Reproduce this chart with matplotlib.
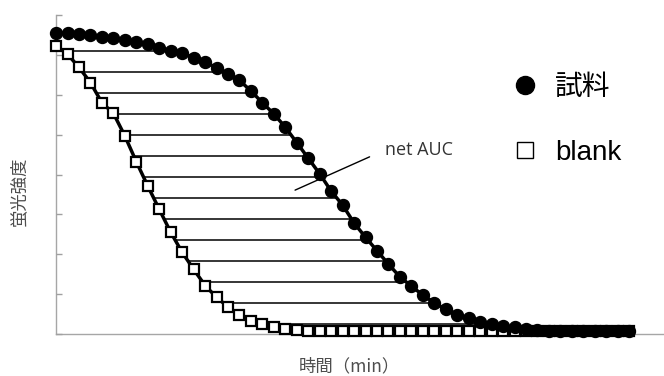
import numpy as np
import matplotlib
matplotlib.use("Agg")
import matplotlib.pyplot as plt
from matplotlib.lines import Line2D

plt.rcParams['font.family'] = ['Liberation Sans', 'Noto Sans CJK JP', 'DejaVu Sans']

# Fluorescence decay of the sample and the blank (relative intensity, %)
time_min = np.arange(0, 102, 2)

sample = [94.3, 94.3, 94.0, 93.7, 93.0, 92.7, 92.2, 91.6, 90.9, 89.8,
          88.8, 88.2, 86.6, 85.2, 83.5, 81.5, 79.5, 76.2, 72.5, 69.0,
          64.8, 60.0, 55.1, 50.2, 44.8, 40.4, 34.8, 30.3, 26.1, 21.9,
          17.9, 15.0, 12.2, 9.8, 7.7, 6.0, 4.9, 3.9, 3.0, 2.5,
          2.1, 1.5, 1.1, 0.95, 0.85, 0.8, 0.8, 0.8, 0.8, 0.8, 0.8]

blank = [90.4, 87.7, 83.6, 78.8, 72.5, 69.2, 62.1, 54.0, 46.4, 39.1,
         31.9, 25.6, 20.3, 15.2, 11.5, 8.5, 6.0, 4.2, 3.1, 2.1,
         1.5, 1.2, 1.0, 0.9, 0.85, 0.8, 0.8, 0.8, 0.8, 0.8,
         0.8, 0.8, 0.8, 0.8, 0.8, 0.8, 0.8, 0.8, 0.8, 0.8,
         0.8, 0.8, 0.8, 0.8, 0.8, 0.8, 0.8, 0.8, 0.8, 0.8, 0.8]

# Intensity levels at which the area between the curves is hatched
hatch_levels = [88.7, 82.1, 75.5, 68.9, 62.4, 55.8, 49.2,
                42.6, 36.1, 29.5, 22.9, 16.3, 9.8, 3.2]

series_labels = ['試料', 'blank']

fig = plt.figure(figsize=(6.64, 3.76), dpi=100)
W, H = 664, 376
ax = fig.add_axes([55.5 / W, (H - 334) / H, (663 - 55.5) / W, (334 - 15) / H])

t = np.asarray(time_min, dtype=float)
s = np.asarray(sample, dtype=float)
b = np.asarray(blank, dtype=float)

# Horizontal hatching: from the blank curve to the sample curve at each level
for lv in hatch_levels:
    x_left = np.interp(lv, b[::-1], t[::-1])
    x_right = np.interp(lv, s[::-1], t[::-1])
    ax.plot([x_left, x_right], [lv, lv], color='black', lw=1.1, zorder=1)

ax.plot(t, b, color='black', lw=2.5, marker='s', markersize=6.8,
        markerfacecolor='white', markeredgecolor='black', markeredgewidth=1.6,
        zorder=3, clip_on=False)
ax.plot(t, s, color='black', lw=2.5, marker='o', markersize=8.6,
        markerfacecolor='black', markeredgecolor='black', zorder=4,
        clip_on=False)

ax.set_xlim(-0.1, 105.9)
ax.set_ylim(0, 100)
ax.set_yticks(np.linspace(0, 100, 9))
ax.set_xticks([])
ax.tick_params(axis='y', direction='in', length=4.5, width=1, color='#a0a0a0',
               labelleft=False)
for side in ('top', 'right'):
    ax.spines[side].set_visible(False)
for side in ('left', 'bottom'):
    ax.spines[side].set_color('#a6a6a6')
    ax.spines[side].set_linewidth(1.0)
    ax.spines[side].set_zorder(0.5)
ax.patch.set_alpha(0)

ax.set_ylabel('蛍光強度', fontsize=12.5, color='#4d4d4d',
              family=['Noto Sans CJK JP', 'DejaVu Sans'])
ax.yaxis.set_label_coords(-0.045, 0.447)
ax.set_xlabel('時間（min）', fontsize=12.5, color='#4d4d4d',
              family=['Noto Sans CJK JP', 'DejaVu Sans'])
ax.xaxis.set_label_coords(0.483, -0.073)

ax.annotate('net AUC', xy=(41.7, 45.1), xytext=(57.4, 57.7),
            fontsize=13, color='#333333', family='Open Sans',
            ha='left', va='center',
            arrowprops=dict(arrowstyle='-', color='black', lw=1.0,
                            relpos=(0, 0.5), shrinkA=10, shrinkB=0))

handles = [
    Line2D([], [], linestyle='none', marker='o', markersize=13,
           markerfacecolor='black', markeredgecolor='black'),
    Line2D([], [], linestyle='none', marker='s', markersize=11,
           markerfacecolor='white', markeredgecolor='black', markeredgewidth=1.0),
]
fig.legend(handles, series_labels, loc='center left',
           bbox_to_anchor=(511 / W, 1 - 120.5 / H), bbox_transform=fig.transFigure,
           frameon=False, fontsize=20, handlelength=1.0, handletextpad=0.6,
           labelspacing=1.4, borderpad=0, borderaxespad=0, numpoints=1)

fig.savefig('out.png', dpi=100)
